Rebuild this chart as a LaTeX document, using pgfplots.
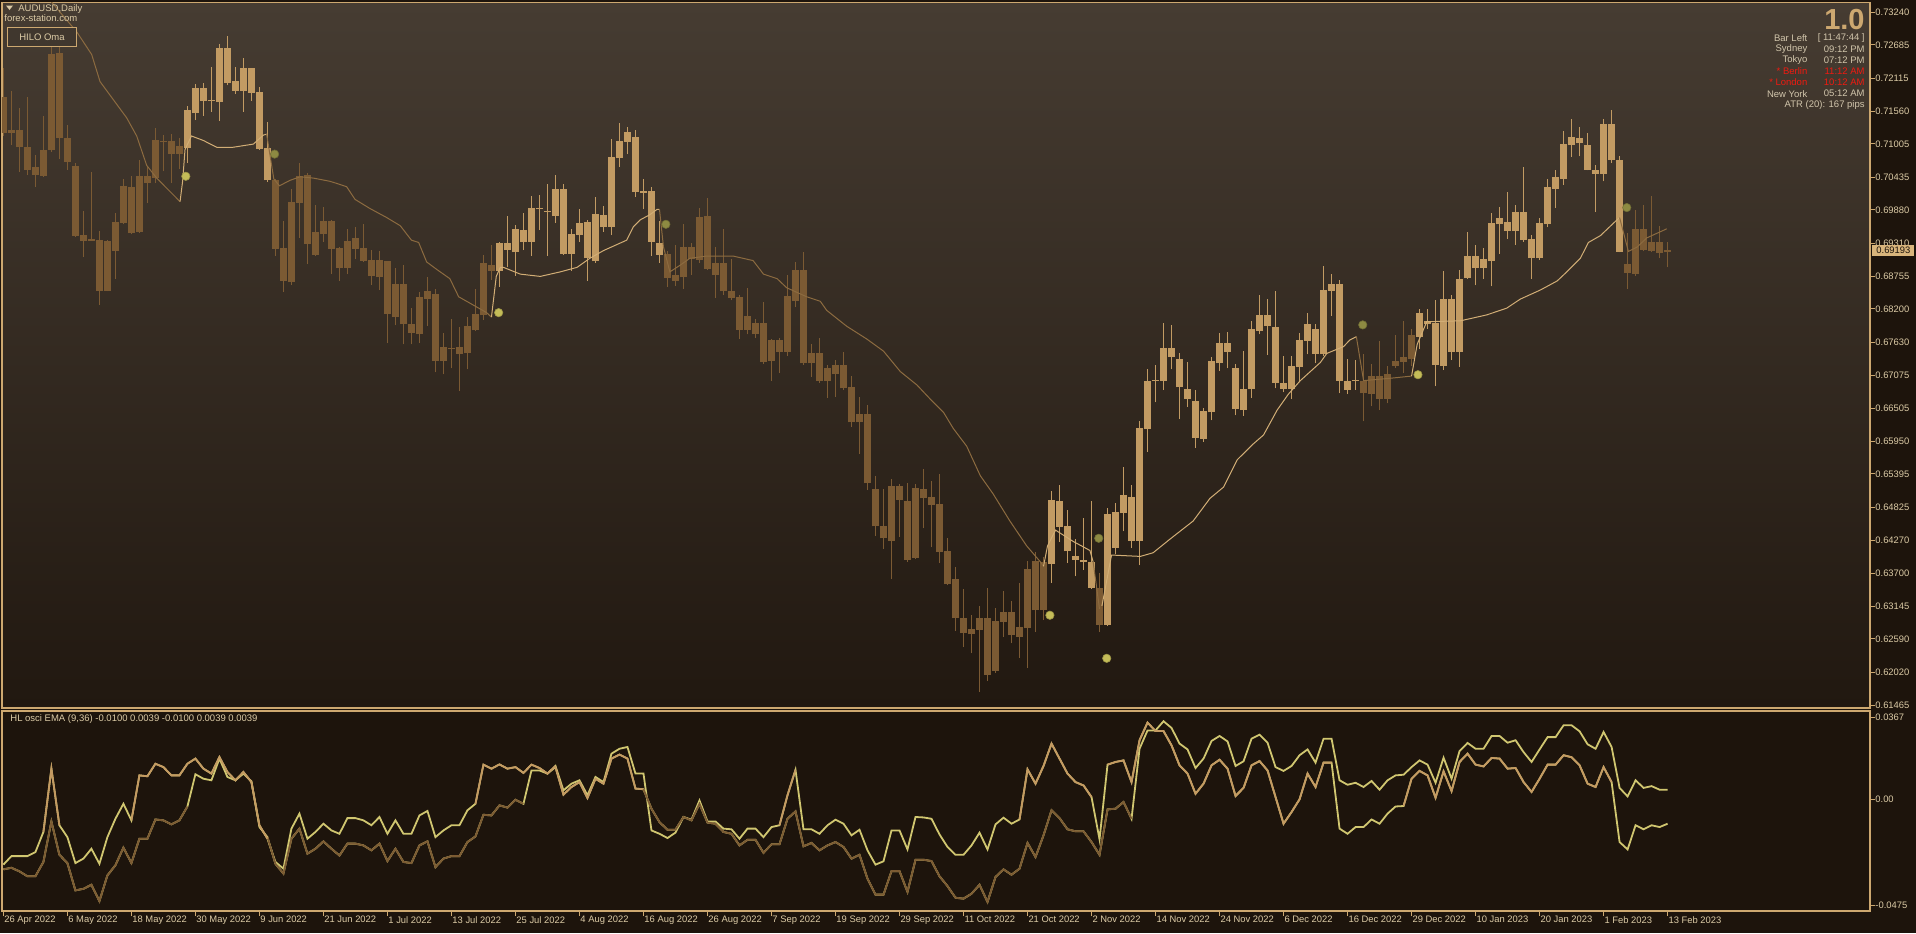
\documentclass[border=0pt]{standalone}
\usepackage{pgfplots}
\usepackage{pgfplotstable}
\pgfplotsset{compat=1.18}
\usepackage{fontspec}
\setmainfont{Liberation Sans}
\definecolor{bgout}{HTML}{1D140C}
\definecolor{bgtop}{HTML}{463C32}
\definecolor{bgbot}{HTML}{211810}
\definecolor{frame}{HTML}{CDA870}
\definecolor{txt}{HTML}{DCCBA6}
\definecolor{clight}{HTML}{C29B63}
\definecolor{cdark}{HTML}{7B5A33}
\definecolor{hilolight}{HTML}{D2AE76}
\definecolor{hilodark}{HTML}{8C6B40}
\definecolor{dotbuy}{HTML}{C4BC58}
\definecolor{dotsell}{HTML}{8D8A42}
\definecolor{oscY}{HTML}{D0C670}
\definecolor{oscT}{HTML}{C49A62}
\definecolor{oscB}{HTML}{7C5B33}
\definecolor{pricebox}{HTML}{D9B57C}
\definecolor{cred}{HTML}{F01A10}
\definecolor{infotxt}{HTML}{D2C6AC}

\pgfplotstableread{
i h bt bb l
0 0.72293 0.71793 0.71192 0.71138
1 0.71908 0.71238 0.71192 0.70984
2 0.71615 0.71238 0.70946 0.70522
3 0.71808 0.70946 0.70561 0.70483
4 0.70822 0.70607 0.70483 0.70276
5 0.71477 0.70907 0.70460 0.70445
6 0.72678 0.72532 0.70907 0.70869
7 0.72678 0.72547 0.71100 0.70753
8 0.71331 0.71100 0.70699 0.70561
9 0.70676 0.70622 0.69444 0.69429
10 0.69868 0.69452 0.69361 0.69082
11 0.70522 0.69382 0.69361 0.69352
12 0.69521 0.69368 0.68505 0.68266
13 0.69368 0.69352 0.68505 0.68497
14 0.69829 0.69675 0.69190 0.68713
15 0.70407 0.70283 0.69660 0.69637
16 0.70460 0.70268 0.69483 0.69467
17 0.70730 0.70453 0.69506 0.69490
18 0.70622 0.70453 0.70345 0.70006
19 0.71269 0.71069 0.70422 0.70337
20 0.71153 0.71053 0.71038 0.70537
21 0.71177 0.71046 0.70830 0.70337
22 0.71100 0.70969 0.70830 0.70584
34 0.70407 0.70383 0.69221 0.69098
35 0.69690 0.69228 0.68674 0.68483
36 0.70237 0.70014 0.68651 0.68612
37 0.70682 0.70453 0.70006 0.69406
38 0.70507 0.70476 0.69305 0.68967
39 0.69960 0.69506 0.69121 0.69105
40 0.69929 0.69690 0.69467 0.69336
41 0.69714 0.69690 0.69213 0.68790
42 0.69251 0.69228 0.68890 0.68674
43 0.69560 0.69352 0.68890 0.68790
44 0.69583 0.69398 0.69213 0.69044
45 0.69637 0.69228 0.69013 0.68998
46 0.69198 0.69028 0.68751 0.68612
47 0.69175 0.69028 0.68736 0.68520
48 0.69020 0.69013 0.68120 0.67619
49 0.68890 0.68620 0.68058 0.67919
50 0.68943 0.68620 0.67935 0.67596
51 0.68212 0.67935 0.67789 0.67596
52 0.68483 0.68397 0.67766 0.67619
53 0.68736 0.68497 0.68368 0.67904
54 0.68535 0.68451 0.67311 0.67119
55 0.67789 0.67550 0.67311 0.67088
56 0.68035 0.67542 0.67527 0.67188
57 0.67889 0.67550 0.67434 0.66803
58 0.68058 0.67904 0.67442 0.67173
59 0.68543 0.68112 0.67835 0.67819
60 0.69113 0.68974 0.68089 0.68012
61 0.69290 0.68951 0.68843 0.68690
83 0.69190 0.69128 0.68728 0.68574
84 0.69282 0.68782 0.68674 0.68589
85 0.69637 0.69251 0.68736 0.68543
86 0.69313 0.69251 0.69044 0.68782
87 0.69906 0.69760 0.69036 0.68982
88 0.70083 0.69775 0.68882 0.68867
89 0.69251 0.68974 0.68782 0.68389
90 0.69552 0.68974 0.68497 0.68443
91 0.69044 0.68497 0.68381 0.68343
92 0.68443 0.68397 0.67842 0.67688
93 0.68551 0.68073 0.67842 0.67766
94 0.68035 0.67958 0.67766 0.67712
95 0.68312 0.67958 0.67303 0.67265
96 0.67688 0.67673 0.67311 0.66980
97 0.67712 0.67665 0.67473 0.67111
98 0.68774 0.68412 0.67473 0.67396
99 0.68990 0.68859 0.68328 0.68228
100 0.69159 0.68859 0.67273 0.67249
101 0.67596 0.67442 0.67273 0.67042
102 0.67704 0.67442 0.66972 0.66941
103 0.67242 0.67196 0.66972 0.66687
104 0.67334 0.67242 0.67088 0.66703
105 0.67465 0.67242 0.66849 0.66826
106 0.67057 0.66865 0.66272 0.66195
107 0.66703 0.66418 0.66272 0.65733
108 0.66557 0.66418 0.65232 0.65117
109 0.65363 0.65132 0.64501 0.64339
110 0.65132 0.64501 0.64300 0.64116
111 0.65301 0.65186 0.64262 0.63607
112 0.65224 0.65186 0.64947 0.64323
113 0.65232 0.64932 0.63939 0.63900
114 0.65224 0.65147 0.63962 0.63946
115 0.65471 0.65132 0.64978 0.64470
116 0.65271 0.64994 0.64863 0.64146
117 0.65401 0.64878 0.64070 0.63877
118 0.64308 0.64077 0.63515 0.63500
119 0.63808 0.63600 0.62937 0.62722
120 0.63438 0.62953 0.62683 0.62452
121 0.62991 0.62760 0.62668 0.62345
122 0.63153 0.62953 0.62745 0.61690
123 0.63461 0.62953 0.61975 0.61875
124 0.63107 0.62900 0.62037 0.62014
125 0.63400 0.63053 0.62877 0.62630
126 0.63238 0.63053 0.62653 0.62514
127 0.63546 0.62799 0.62630 0.62268
128 0.63915 0.63785 0.62768 0.62091
129 0.64070 0.63915 0.63076 0.62707
130 0.63977 0.63900 0.63076 0.62914
137 0.63715 0.63461 0.62822 0.62707
170 0.67427 0.66965 0.66764 0.66287
171 0.67265 0.67057 0.66757 0.66541
172 0.67658 0.67057 0.66672 0.66480
173 0.67226 0.67096 0.66672 0.66595
174 0.67750 0.67319 0.67226 0.67196
175 0.67996 0.67380 0.67303 0.67111
176 0.67865 0.67750 0.67342 0.67226
203 0.69483 0.68959 0.68805 0.68543
204 0.69883 0.69552 0.68790 0.68766
205 0.69968 0.69552 0.69198 0.69175
206 0.70122 0.69336 0.69190 0.69159
207 0.69613 0.69336 0.69151 0.69059
208 0.69344 0.69205 0.69159 0.68905
}\darkc

\pgfplotstableread{
i h bt bb l
23 0.71654 0.71577 0.70930 0.70676
24 0.72016 0.71954 0.71523 0.71408
25 0.72039 0.71954 0.71739 0.71485
26 0.72308 0.71746 0.71731 0.71546
27 0.72701 0.72632 0.71716 0.71400
28 0.72832 0.72632 0.72039 0.72000
29 0.72308 0.72070 0.71908 0.71854
30 0.72462 0.72293 0.71908 0.71554
31 0.72293 0.72293 0.71870 0.71739
32 0.71962 0.71885 0.70922 0.70907
33 0.71384 0.70930 0.70383 0.70353
62 0.69344 0.69313 0.68843 0.68574
63 0.69775 0.69313 0.69205 0.68905
64 0.69621 0.69552 0.69159 0.68759
65 0.69829 0.69536 0.69344 0.69198
66 0.70114 0.69906 0.69344 0.69098
67 0.70129 0.69906 0.69891 0.69536
68 0.70322 0.69860 0.69845 0.69098
69 0.70476 0.70237 0.69775 0.69660
70 0.70322 0.70237 0.69136 0.69113
71 0.69552 0.69467 0.69136 0.68843
72 0.69891 0.69660 0.69452 0.69344
73 0.69706 0.69675 0.69059 0.68674
74 0.70099 0.69806 0.69005 0.68982
75 0.69945 0.69791 0.69598 0.69506
76 0.71084 0.70776 0.69598 0.69452
77 0.71354 0.71053 0.70761 0.70607
78 0.71292 0.71200 0.71038 0.70830
79 0.71246 0.71115 0.70183 0.70099
80 0.70399 0.70206 0.70168 0.69891
81 0.70268 0.70199 0.69336 0.69098
82 0.69690 0.69313 0.69121 0.68982
131 0.65109 0.64955 0.63863 0.63538
132 0.65209 0.64932 0.64493 0.64239
133 0.64786 0.64501 0.64077 0.63877
134 0.64285 0.63992 0.63931 0.63654
135 0.64640 0.63939 0.63892 0.63762
136 0.64932 0.63900 0.63453 0.63445
138 0.64817 0.64709 0.62822 0.62807
139 0.64901 0.64748 0.64131 0.64039
140 0.65509 0.65032 0.64724 0.64416
141 0.65209 0.64994 0.64262 0.64131
142 0.66287 0.66172 0.64262 0.63838
143 0.67173 0.66965 0.66156 0.65771
144 0.67242 0.66988 0.66972 0.66610
145 0.67966 0.67542 0.66980 0.66826
146 0.67919 0.67542 0.67380 0.67173
147 0.67442 0.67350 0.66865 0.66325
148 0.67303 0.66842 0.66664 0.66533
149 0.66826 0.66626 0.66002 0.65840
150 0.66518 0.66456 0.65994 0.65940
151 0.67380 0.67311 0.66441 0.66302
152 0.67789 0.67619 0.67273 0.67149
153 0.67804 0.67619 0.67473 0.67188
154 0.67265 0.67188 0.66495 0.66387
155 0.67481 0.66842 0.66480 0.66379
156 0.67996 0.67850 0.66834 0.66687
157 0.68443 0.68089 0.67819 0.67766
158 0.68368 0.68089 0.67904 0.67419
159 0.68497 0.67889 0.66942 0.66849
160 0.67404 0.66942 0.66842 0.66780
161 0.67404 0.67226 0.66842 0.66672
162 0.67789 0.67665 0.67211 0.66980
163 0.68135 0.67935 0.67658 0.67427
164 0.67943 0.67850 0.67434 0.67280
165 0.68920 0.68520 0.67434 0.67404
166 0.68790 0.68620 0.68505 0.68081
167 0.68690 0.68620 0.66980 0.66764
168 0.67350 0.66980 0.66826 0.66749
169 0.67327 0.66988 0.66972 0.66826
177 0.68189 0.68135 0.67727 0.67519
178 0.68189 0.67996 0.67935 0.67865
179 0.68343 0.67958 0.67249 0.66880
180 0.68851 0.68368 0.67226 0.67165
181 0.68443 0.68368 0.67465 0.67327
182 0.68867 0.68713 0.67465 0.67211
183 0.69498 0.69090 0.68720 0.68713
184 0.69290 0.69105 0.68890 0.68597
185 0.69236 0.69044 0.68897 0.68713
186 0.69829 0.69660 0.69005 0.68582
187 0.69937 0.69737 0.69637 0.69136
188 0.70183 0.69683 0.69521 0.69390
189 0.69960 0.69844 0.69521 0.69290
190 0.70614 0.69844 0.69367 0.69344
191 0.69459 0.69382 0.69059 0.68713
192 0.69737 0.69660 0.69059 0.69036
193 0.70407 0.70268 0.69637 0.69583
194 0.70561 0.70445 0.70237 0.69922
195 0.71215 0.71000 0.70407 0.70306
196 0.71423 0.71115 0.70984 0.70784
197 0.71292 0.71100 0.71015 0.70792
198 0.71192 0.70984 0.70561 0.70553
199 0.70653 0.70568 0.70499 0.69844
200 0.71431 0.71338 0.70499 0.70368
201 0.71577 0.71338 0.70730 0.70676
202 0.70792 0.70730 0.69167 0.69159
}\lightc

\pgfplotstableread{
i a b
0 -0.0292 -0.0313
1 -0.0254 -0.0306
2 -0.0254 -0.0322
3 -0.0254 -0.0344
4 -0.0236 -0.0344
5 -0.0146 -0.0280
6 0.0137 -0.0099
7 -0.0116 -0.0248
8 -0.0169 -0.0285
9 -0.0285 -0.0407
10 -0.0265 -0.0400
11 -0.0221 -0.0382
12 -0.0288 -0.0455
13 -0.0169 -0.0340
14 -0.0087 -0.0295
15 -0.0020 -0.0216
16 -0.0094 -0.0285
17 0.0107 -0.0176
18 0.0103 -0.0176
19 0.0159 -0.0090
20 0.0144 -0.0094
21 0.0107 -0.0112
22 0.0107 -0.0094
23 0.0159 -0.0032
24 0.0182 0.0112
25 0.0137 0.0092
26 0.0115 0.0085
27 0.0189 0.0182
28 0.0122 0.0100
29 0.0085 0.0085
30 0.0122 0.0115
31 0.0077 0.0080
32 -0.0116 -0.0124
33 -0.0176 -0.0169
34 -0.0280 -0.0288
35 -0.0310 -0.0332
36 -0.0131 -0.0176
37 -0.0064 -0.0131
38 -0.0176 -0.0243
39 -0.0146 -0.0221
40 -0.0109 -0.0188
41 -0.0139 -0.0221
42 -0.0154 -0.0251
43 -0.0084 -0.0198
44 -0.0084 -0.0198
45 -0.0094 -0.0206
46 -0.0116 -0.0228
47 -0.0079 -0.0198
48 -0.0154 -0.0276
49 -0.0094 -0.0221
50 -0.0154 -0.0280
51 -0.0154 -0.0285
52 -0.0072 -0.0206
53 -0.0052 -0.0188
54 -0.0169 -0.0303
55 -0.0139 -0.0265
56 -0.0116 -0.0254
57 -0.0116 -0.0254
58 -0.0049 -0.0191
59 -0.0020 -0.0166
60 0.0155 -0.0069
61 0.0137 -0.0072
62 0.0156 -0.0027
63 0.0137 -0.0037
64 0.0144 -0.0002
65 0.0118 -0.0020
66 0.0155 0.0129
67 0.0140 0.0129
68 0.0115 0.0115
69 0.0149 0.0144
70 0.0040 0.0021
71 0.0070 0.0055
72 0.0085 0.0077
73 0.0018 0.0006
74 0.0100 0.0092
75 0.0077 0.0070
76 0.0204 0.0182
77 0.0226 0.0200
78 0.0234 0.0182
79 0.0115 0.0048
80 0.0115 0.0045
81 -0.0139 -0.0042
82 -0.0154 -0.0102
83 -0.0173 -0.0136
84 -0.0149 -0.0136
85 -0.0079 -0.0079
86 -0.0091 -0.0094
87 -0.0005 -0.0020
88 -0.0099 -0.0104
89 -0.0099 -0.0109
90 -0.0131 -0.0146
91 -0.0134 -0.0154
92 -0.0176 -0.0206
93 -0.0131 -0.0181
94 -0.0131 -0.0181
95 -0.0169 -0.0239
96 -0.0124 -0.0201
97 -0.0116 -0.0201
98 0.0018 -0.0087
99 0.0132 -0.0054
100 -0.0134 -0.0210
101 -0.0134 -0.0195
102 -0.0154 -0.0228
103 -0.0116 -0.0206
104 -0.0091 -0.0191
105 -0.0109 -0.0213
106 -0.0161 -0.0265
107 -0.0136 -0.0248
108 -0.0228 -0.0355
109 -0.0292 -0.0426
110 -0.0277 -0.0426
111 -0.0139 -0.0321
112 -0.0139 -0.0321
113 -0.0224 -0.0414
114 -0.0079 -0.0270
115 -0.0081 -0.0270
116 -0.0087 -0.0276
117 -0.0157 -0.0344
118 -0.0213 -0.0388
119 -0.0248 -0.0440
120 -0.0248 -0.0444
121 -0.0206 -0.0422
122 -0.0149 -0.0382
123 -0.0224 -0.0459
124 -0.0112 -0.0347
125 -0.0082 -0.0313
126 -0.0109 -0.0337
127 -0.0090 -0.0310
128 0.0134 -0.0195
129 0.0070 -0.0258
130 0.0149 -0.0161
131 0.0249 -0.0049
132 0.0182 -0.0084
133 0.0115 -0.0134
134 0.0077 -0.0143
135 0.0062 -0.0143
136 0.0010 -0.0191
137 -0.0179 -0.0248
138 0.0155 -0.0045
139 0.0167 -0.0042
140 0.0174 -0.0012
141 0.0077 -0.0087
142 0.0264 0.0226
143 0.0343 0.0308
144 0.0305 0.0308
145 0.0305 0.0349
146 0.0241 0.0319
147 0.0152 0.0249
148 0.0115 0.0223
149 0.0025 0.0140
150 0.0070 0.0182
151 0.0152 0.0261
152 0.0177 0.0283
153 0.0137 0.0259
154 0.0015 0.0149
155 0.0051 0.0170
156 0.0152 0.0271
157 0.0171 0.0289
158 0.0129 0.0253
159 0.0010 0.0144
160 -0.0109 0.0127
161 -0.0057 0.0149
162 0.0000 0.0197
163 0.0115 0.0223
164 0.0055 0.0164
165 0.0164 0.0271
166 0.0164 0.0271
167 -0.0131 0.0085
168 -0.0154 0.0065
169 -0.0124 0.0074
170 -0.0124 0.0055
171 -0.0090 0.0082
172 -0.0109 0.0043
173 -0.0064 0.0085
174 -0.0032 0.0107
175 -0.0030 0.0110
176 0.0092 0.0144
177 0.0127 0.0174
178 0.0107 0.0155
179 0.0007 0.0074
180 0.0125 0.0186
181 0.0037 0.0092
182 0.0167 0.0216
183 0.0204 0.0252
184 0.0155 0.0226
185 0.0147 0.0226
186 0.0185 0.0283
187 0.0182 0.0283
188 0.0137 0.0253
189 0.0140 0.0264
190 0.0077 0.0211
191 0.0033 0.0167
192 0.0092 0.0223
193 0.0155 0.0278
194 0.0155 0.0278
195 0.0197 0.0331
196 0.0188 0.0331
197 0.0152 0.0304
198 0.0070 0.0246
199 0.0055 0.0226
200 0.0144 0.0301
201 0.0077 0.0234
202 -0.0191 0.0051
203 -0.0224 0.0013
204 -0.0116 0.0085
205 -0.0134 0.0051
206 -0.0116 0.0059
207 -0.0124 0.0043
208 -0.0109 0.0043
}\osc

\begin{document}
\begin{tikzpicture}
\path[use as bounding box, fill=bgout] (0pt,0pt) rectangle (958pt,-466.5pt);

% ---------------- main price panel ----------------
\begin{axis}[
  at={(1pt,-1.15pt)}, anchor=north west,
  scale only axis, width=934pt, height=352.85pt,
  xmin=-0.175, xmax=233.3, ymin=0.61415, ymax=0.73410,
  axis background/.style={top color=bgtop, bottom color=bgbot},
  axis line style={frame, line width=0.6pt},
  xtick=\empty, scaled y ticks=false, scaled x ticks=false,
  ytick={0.61465,0.62020,0.62590,0.63145,0.63700,0.64270,0.64825,0.65395,0.65950,0.66505,0.67075,0.67630,0.68200,0.68755,0.69310,0.69880,0.70435,0.71005,0.71560,0.72115,0.72685,0.73240},
  yticklabels={0.61465,0.62020,0.62590,0.63145,0.63700,0.64270,0.64825,0.65395,0.65950,0.66505,0.67075,0.67630,0.68200,0.68755,0.69310,0.69880,0.70435,0.71005,0.71560,0.72115,0.72685,0.73240},
  ytick pos=right, yticklabel pos=right,
  tick align=outside, major tick length=2.5pt,
  tick style={frame, line width=0.5pt},
  yticklabel style={font=\fontsize{4.7}{5.5}\selectfont, text=txt, anchor=west, inner sep=0pt},
]
% wicks
\addplot[draw=none, mark=none, error bars/.cd, y dir=plus, y explicit, error mark=none,
  error bar style={line width=0.5pt, draw=cdark}]
  table[x=i, y=l, y error plus expr=\thisrow{h}-\thisrow{l}] {\darkc};
\addplot[draw=none, mark=none, error bars/.cd, y dir=plus, y explicit, error mark=none,
  error bar style={line width=0.5pt, draw=clight}]
  table[x=i, y=l, y error plus expr=\thisrow{h}-\thisrow{l}] {\lightc};
% bodies
\addplot[draw=none, mark=none, error bars/.cd, y dir=plus, y explicit, error mark=none,
  error bar style={line width=3.4pt, draw=cdark}]
  table[x=i, y=bb, y error plus expr=\thisrow{bt}-\thisrow{bb}] {\darkc};
\addplot[draw=none, mark=none, error bars/.cd, y dir=plus, y explicit, error mark=none,
  error bar style={line width=3.4pt, draw=clight}]
  table[x=i, y=bb, y error plus expr=\thisrow{bt}-\thisrow{bb}] {\lightc};

% HILO line
\addplot[hilodark, line width=0.5pt] coordinates {(5.6,0.7370) (6.03,0.73410) (9.16,0.72909) (11.03,0.72524) (12.08,0.72062) (13.33,0.71831) (15.41,0.71446) (16.66,0.71138) (17.91,0.70638) (19.16,0.70422) (22.08,0.70022)};
\addplot[hilolight, line width=0.5pt] coordinates {(22.08,0.70022) (22.4,0.70368) (22.7,0.70907) (23.5,0.71138) (25.0,0.71061) (26.66,0.70946) (28.7,0.70946) (31.24,0.71000) (32.5,0.71153) (32.9,0.71169)};
\addplot[hilodark, line width=0.5pt] coordinates {(32.9,0.71169) (33.8,0.70407) (34.5,0.70291) (35.8,0.70383) (37.1,0.70445) (38.75,0.70422) (40.8,0.70368) (41.7,0.70330) (42.9,0.70276) (43.95,0.70060) (45.8,0.69906) (47.9,0.69752) (49.6,0.69613) (51.0,0.69367) (51.9,0.69328) (52.9,0.68997) (54.2,0.68866) (55.8,0.68713) (56.9,0.68405) (57.9,0.68328) (59.4,0.68212) (60.4,0.68135) (61.0,0.68058)};
\addplot[hilolight, line width=0.5pt] coordinates {(61.0,0.68058) (61.6,0.68751) (62.1,0.68905) (62.5,0.68905) (64.6,0.68790) (67.1,0.68751) (69.6,0.68828) (71.7,0.68905) (73.3,0.69059) (75.0,0.69190) (77.9,0.69367) (78.75,0.69598) (79.6,0.69713) (80.8,0.69800) (81.7,0.69891) (82.0,0.69891)};
\addplot[hilodark, line width=0.5pt] coordinates {(82.0,0.69891) (82.5,0.69251) (83.3,0.68828) (84.6,0.68943) (85.8,0.69059) (87.9,0.69097) (91.2,0.69097) (93.7,0.69020) (95.0,0.68790) (96.7,0.68713) (97.9,0.68558) (100.4,0.68405) (102.1,0.68328) (102.9,0.68174) (105.4,0.67904) (107.9,0.67688) (110.0,0.67481) (112.1,0.67134) (114.2,0.66903) (115.8,0.66672) (117.5,0.66441) (118.7,0.66171) (120.4,0.65864) (122.1,0.65363) (123.7,0.65055) (125.8,0.64593) (127.9,0.64170) (129.6,0.63900) (130.0,0.63823)};
\addplot[hilolight, line width=0.5pt] coordinates {(130.0,0.63823) (130.5,0.64170) (131.5,0.64439) (133.7,0.64247) (135.8,0.64093) (136.2,0.63900)};
\addplot[hilodark, line width=0.5pt] coordinates {(136.2,0.63900) (137.0,0.63100)};
\addplot[hilolight, line width=0.5pt] coordinates {(137.3,0.63150) (138.5,0.64015) (142.1,0.63992) (143.7,0.64054) (145.8,0.64285) (148.7,0.64593) (150.8,0.64978) (152.5,0.65170) (154.2,0.65633) (156.2,0.65902) (157.5,0.66056) (159.2,0.66479) (160.6,0.66749) (162.1,0.66980) (164.6,0.67288) (165.4,0.67442) (167.5,0.67558) (168.3,0.67673) (169.1,0.67727)};
\addplot[hilodark, line width=0.5pt] coordinates {(169.1,0.67727) (170.0,0.66980) (173.3,0.67019) (176.0,0.67057)};
\addplot[hilolight, line width=0.5pt] coordinates {(176.0,0.67057) (176.7,0.67596) (177.9,0.67981) (182.1,0.67996) (185.4,0.68097) (187.9,0.68212) (189.6,0.68366) (192.1,0.68520) (194.2,0.68674) (195.4,0.68828) (197.1,0.69059) (198.1,0.69328) (199.6,0.69444) (201.5,0.69690) (202.0,0.69752)};
\addplot[hilodark, line width=0.5pt] coordinates {(202.0,0.69752) (203.1,0.69175) (204.2,0.69251) (205.4,0.69406) (207.9,0.69560)};

% HILO dots
\addplot[only marks, mark=*, mark size=2.1pt, mark options={draw=dotbuy!80!black, fill=dotbuy, line width=0.3pt}] coordinates {(22.8,0.70453) (61.9,0.68135) (130.8,0.62992) (137.9,0.62260) (176.8,0.67080)};
\addplot[only marks, mark=*, mark size=2.1pt, mark options={draw=dotsell!80!black, fill=dotsell, line width=0.3pt}] coordinates {(33.9,0.70830) (82.8,0.69637) (136.9,0.64300) (169.9,0.67927) (202.9,0.69921)};
\end{axis}

% ---------------- oscillator panel ----------------
\begin{axis}[
  at={(1pt,-355.5pt)}, anchor=north west,
  scale only axis, width=934pt, height=100pt,
  xmin=-0.175, xmax=233.3, ymin=-0.04993, ymax=0.03947,
  axis background/.style={fill=bgout},
  axis line style={frame, line width=0.6pt},
  scaled y ticks=false, scaled x ticks=false,
  xtick={0,8,...,208},
  xticklabels={26 Apr 2022,6 May 2022,18 May 2022,30 May 2022,9 Jun 2022,21 Jun 2022,1 Jul 2022,13 Jul 2022,25 Jul 2022,4 Aug 2022,16 Aug 2022,26 Aug 2022,7 Sep 2022,19 Sep 2022,29 Sep 2022,11 Oct 2022,21 Oct 2022,2 Nov 2022,14 Nov 2022,24 Nov 2022,6 Dec 2022,16 Dec 2022,29 Dec 2022,10 Jan 2023,20 Jan 2023,1 Feb 2023,13 Feb 2023},
  xtick pos=lower, xticklabel pos=lower,
  ytick={-0.0475,0,0.0367}, yticklabels={-0.0475,0.00,0.0367},
  ytick pos=right, yticklabel pos=right,
  tick align=outside, major tick length=2.5pt,
  tick style={frame, line width=0.5pt},
  xticklabel style={font=\fontsize{4.7}{5.5}\selectfont, text=txt, anchor=north west, inner sep=0pt, xshift=0.3pt},
  yticklabel style={font=\fontsize{4.7}{5.5}\selectfont, text=txt, anchor=west, inner sep=0pt},
]
\addplot[oscY, line width=0.9pt] table[x=i, y=a] {\osc};
\addplot[oscY, line width=0.9pt] table[x=i, y=b] {\osc};
% lower line colouring
\addplot[oscB, line width=0.9pt, restrict x to domain=0:23] table[x=i, y=b] {\osc};
\addplot[oscB, line width=0.9pt, restrict x to domain=33:65] table[x=i, y=b] {\osc};
\addplot[oscT, line width=0.9pt, restrict x to domain=69:80] table[x=i, y=b] {\osc};
\addplot[oscB, line width=0.9pt, restrict x to domain=80:141] table[x=i, y=b] {\osc};
% upper line colouring
\addplot[oscT, line width=0.9pt, restrict x to domain=5:7] table[x=i, y=a] {\osc};
\addplot[oscT, line width=0.9pt, restrict x to domain=16:33] table[x=i, y=a] {\osc};
\addplot[oscT, line width=0.9pt, restrict x to domain=59:69] table[x=i, y=a] {\osc};
\addplot[oscT, line width=0.9pt, restrict x to domain=97:99] table[x=i, y=a] {\osc};
\addplot[oscT, line width=0.9pt, restrict x to domain=127:136] table[x=i, y=a] {\osc};
\addplot[oscT, line width=0.9pt, restrict x to domain=138:166] table[x=i, y=a] {\osc};
\addplot[oscT, line width=0.9pt, restrict x to domain=175:201] table[x=i, y=a] {\osc};
\end{axis}

% ---------------- texts (pixel coordinates) ----------------
\begin{scope}[x=0.5pt, y=-0.5pt]
\fill[txt] (6,5.5) -- (13,5.5) -- (9.5,10) -- cycle;
\node[anchor=west, inner sep=0pt, text=txt, font=\fontsize{4.75}{5.5}\selectfont] at (18,9) {AUDUSD,Daily};
\node[anchor=west, inner sep=0pt, text=txt, font=\fontsize{4.75}{5.5}\selectfont] at (4,18.5) {forex-station.com};
\draw[frame, line width=0.5pt, fill=bgtop!92!black] (7.5,27.5) rectangle (76.5,46.5);
\node[inner sep=0pt, text=txt, font=\fontsize{4.75}{5.5}\selectfont] at (42,37) {HILO Oma};

\node[anchor=east, inner sep=0pt, text=frame, font=\fontsize{14.5}{15}\selectfont\bfseries] at (1865,20) {1.0};
\begin{scope}[every node/.style={inner sep=0pt, font=\fontsize{4.75}{5.5}\selectfont}]
\node[anchor=east, text=infotxt] at (1807.7,38.5) {Bar Left};
\node[anchor=east, text=infotxt] at (1865,38.5) {[ 11:47:44 ]};
\node[anchor=east, text=infotxt] at (1807.7,49.4) {Sydney};
\node[anchor=east, text=infotxt] at (1865,49.4) {09:12 PM};
\node[anchor=east, text=infotxt] at (1807.7,60.2) {Tokyo};
\node[anchor=east, text=infotxt] at (1865,60.2) {07:12 PM};
\node[anchor=east, text=cred] at (1807.7,71) {* Berlin};
\node[anchor=east, text=cred] at (1865,71) {11:12 AM};
\node[anchor=east, text=cred] at (1807.7,82.4) {* London};
\node[anchor=east, text=cred] at (1865,82.4) {10:12 AM};
\node[anchor=east, text=infotxt] at (1807.7,93.7) {New York};
\node[anchor=east, text=infotxt] at (1865,93.7) {05:12 AM};
\node[anchor=east, text=infotxt] at (1865,104.6) {ATR (20): 167 pips};
\node[anchor=west, text=txt] at (10,719.5) {HL osci EMA (9,36) -0.0100 0.0039 -0.0100 0.0039 0.0039};
\end{scope}
% current price box
\fill[pricebox] (1872,245) rectangle (1914,256);
\node[anchor=west, inner sep=0pt, text=bgout, font=\fontsize{4.7}{5.5}\selectfont] at (1876,250.5) {0.69193};
\end{scope}
\end{tikzpicture}
\end{document}
